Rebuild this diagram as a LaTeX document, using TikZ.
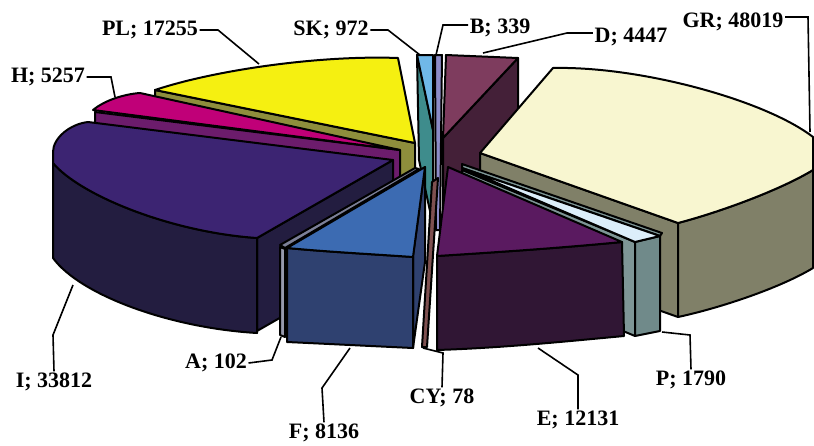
\documentclass[tikz,border=0pt]{standalone}
\usepackage{fontspec}
\setmainfont{Liberation Serif}
\definecolor{grtop}{HTML}{F8F6D0}
\definecolor{grside}{HTML}{808068}
\definecolor{itop}{HTML}{3C2472}
\definecolor{iside}{HTML}{231D40}
\definecolor{htop}{HTML}{C00078}
\definecolor{hside}{HTML}{6C1C6C}
\definecolor{pltop}{HTML}{F5F011}
\definecolor{plside}{HTML}{8E8E3C}
\definecolor{ftop}{HTML}{3C6BB2}
\definecolor{fside}{HTML}{2F4170}
\definecolor{etop}{HTML}{5A1A60}
\definecolor{eside}{HTML}{301634}
\definecolor{dtop}{HTML}{7E3C5E}
\definecolor{dside}{HTML}{442038}
\definecolor{sktop}{HTML}{70B8E8}
\definecolor{skside}{HTML}{3E8C8C}
\definecolor{bcol}{HTML}{8C8CC8}
\definecolor{acol}{HTML}{7C8098}
\definecolor{cycol}{HTML}{7E5050}
\definecolor{ptop}{HTML}{DCEEFA}
\definecolor{pside}{HTML}{708A8A}
\begin{document}
\begin{tikzpicture}[x=1pt,y=-1pt,
	pie/.style={draw=black,line width=2pt,line join=round},
	lead/.style={draw=black,line width=1.6pt},
	lbl/.style={inner sep=1.5pt,font=\fontsize{22}{25}\selectfont\bfseries}]
	\useasboundingbox (0,0) rectangle (814,445);

	\fill[white] (0,0) rectangle (814,445);

	\draw[pie,fill=dside] (518,58) -- (443,138) -- (443,231) -- (518,151) -- cycle;
	\draw[pie,fill=dtop] (446,55) -- (518,58) -- (443,138) -- cycle;

	\draw[pie,fill=skside] (417,55) -- (433,130) -- (433,225) -- (419,160) -- cycle;
	\draw[pie,fill=sktop] (417,55) -- (433,55) -- (433,130) -- cycle;
	\draw[pie,fill=bcol] (435,55) -- (442,55) -- (440,230) -- (436,230) -- cycle;

	\draw[pie,fill=plside] (155,90) -- (415,143) -- (415,236) -- (155,183) -- cycle;
	\draw[pie,fill=pltop] (155,90) .. controls (215,70) and (320,55) .. (398,58) -- (415,143) -- cycle;

	\draw[pie,fill=hside] (95,112) -- (400,150) -- (400,243) -- (95,205) -- cycle;
	\draw[pie,fill=htop] (93,110) .. controls (105,100) and (125,94) .. (140,93) -- (400,150) -- cycle;

	\draw[pie,fill=grside] (480,153) -- (678,223) -- (678,317) -- (480,247) -- cycle;
	\draw[pie,fill=grside] (678,223) .. controls (720,212) and (780,190) .. (813,170) -- (813,268) .. controls (780,288) and (720,308) .. (678,317) -- cycle;
	\draw[pie,fill=grtop] (480,153) -- (553,68) .. controls (640,66) and (765,100) .. (813,137) -- (813,170) .. controls (780,190) and (720,212) .. (678,223) -- cycle;

	\draw[pie,fill=iside] (257,238) -- (393,160) -- (393,253) -- (257,331) -- cycle;
	\draw[pie,fill=iside] (53,163) -- (53,258) .. controls (80,295) and (170,328) .. (257,333) -- (257,238) .. controls (170,232) and (80,195) .. (53,163) -- cycle;
	\draw[pie,fill=itop] (88,122) -- (393,160) -- (257,238) .. controls (170,232) and (80,195) .. (53,163) -- (53,152) .. controls (53,138) and (70,124) .. (88,122) -- cycle;

	\draw[pie,fill=acol!80!white] (280,247) -- (285,249) -- (285,337) -- (280,335) -- cycle;
	\draw[pie,fill=acol] (280,245) -- (415,168) -- (419,169) -- (285,248) -- cycle;

	\draw[pie,fill=fside] (413,256) -- (425,167) -- (425,262) -- (413,348) -- cycle;
	\draw[pie,fill=fside] (287,248) .. controls (330,252) and (370,254) .. (413,257) -- (413,348) .. controls (370,346) and (330,344) .. (287,342) -- cycle;
	\draw[pie,fill=ftop] (287,248) -- (425,167) -- (413,257) .. controls (370,254) and (330,252) .. (287,248) -- cycle;

	\draw[pie,fill=cycol] (422,347) -- (432,182) -- (438,178) -- (427,347) -- cycle;

	\draw[pie,fill=pside!90!white] (462,170) -- (635,242) -- (635,336) -- (462,264) -- cycle;
	\draw[pie,fill=pside] (635,242) -- (660,236) -- (660,331) -- (635,336) -- cycle;
	\draw[pie,fill=pside!90!white] (462,164) -- (662,233) -- (660,236) -- (462,168) -- cycle;
	\draw[pie,fill=ptop] (462,168) -- (660,236) -- (635,242) -- cycle;

	\draw[pie,fill=eside] (437,256) .. controls (500,252) and (560,248) .. (622,242) -- (624,336) .. controls (560,342) and (500,348) .. (437,350) -- cycle;
	\draw[pie,fill=etop] (448,167) -- (622,242) .. controls (560,248) and (500,252) .. (437,256) -- cycle;

	\node[lbl] (pl) at (150,30) {PL; 17255};
	\node[lbl] (sk) at (331,30) {SK; 972};
	\node[lbl] (h) at (48,77) {H; 5257};
	\node[lbl] (b) at (500,28) {B; 339};
	\node[lbl] (d) at (631,37) {D; 4447};
	\node[lbl] (gr) at (733,22) {GR; 48019};
	\node[lbl] (i) at (54,382) {I; 33812};
	\node[lbl] (a) at (216,363) {A; 102};
	\node[lbl] (f) at (324,433) {F; 8136};
	\node[lbl] (cy) at (442,398) {CY; 78};
	\node[lbl] (e) at (578,420) {E; 12131};
	\node[lbl] (p) at (691,380) {P; 1790};

	\coordinate (plk) at (218,30);
	\coordinate (pla) at (259,64);
	\coordinate (skk) at (388,30);
	\coordinate (ska) at (420,55);
	\coordinate (hk) at (111,77);
	\coordinate (ha) at (115,97);
	\coordinate (bk) at (443,25);
	\coordinate (ba) at (436,55);
	\coordinate (dk) at (567,33);
	\coordinate (da) at (483,53);
	\coordinate (grk) at (808,17);
	\coordinate (gra) at (810,132);
	\coordinate (ik) at (53,335);
	\coordinate (ia) at (73,285);
	\coordinate (ak) at (272,360);
	\coordinate (aa) at (281,337);
	\coordinate (fk) at (322,388);
	\coordinate (fa) at (350,348);
	\coordinate (cyk) at (443,353);
	\coordinate (cya) at (423,348);
	\coordinate (ek) at (578,375);
	\coordinate (ea) at (538,348);
	\coordinate (pk) at (690,335);
	\coordinate (pa) at (662,332);

	\draw[lead] (pl.east) -- (plk) -- (pla);
	\draw[lead] (sk.east) -- (skk) -- (ska);
	\draw[lead] (h.east) -- (hk) -- (ha);
	\draw[lead] (b.west |- bk) -- (bk) -- (ba);
	\draw[lead] (d.west |- dk) -- (dk) -- (da);
	\draw[lead] (gr.east |- grk) -- (grk) -- (gra);
	\draw[lead] (i.north) -- (ik) -- (ia);
	\draw[lead] (a.east) -- (ak) -- (aa);
	\draw[lead] (f.north) -- (fk) -- (fa);
	\draw[lead] (cy.north) -- (cyk) -- (cya);
	\draw[lead] (e.north) -- (ek) -- (ea);
	\draw[lead] (p.north) -- (pk) -- (pa);
\end{tikzpicture}
\end{document}
